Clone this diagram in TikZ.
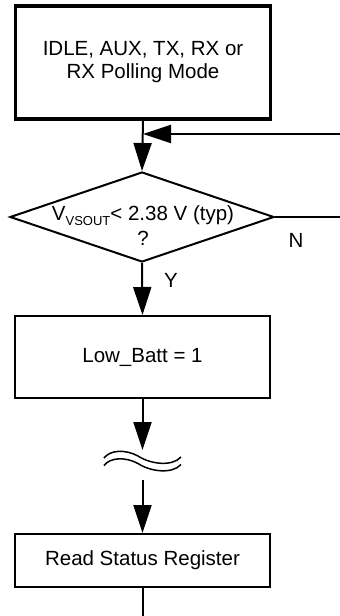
\documentclass[tikz,border=0pt]{standalone}
\usepackage{fontspec}
\setmainfont{Liberation Sans}
\usetikzlibrary{shapes.geometric, arrows.meta}

\begin{document}
\begin{tikzpicture}[x=1pt, y=-1pt]
% styles
\tikzstyle{modebox}=[rectangle, draw=black, line width=3.5pt, minimum width=255pt, minimum height=113pt, align=center, inner sep=0pt, font=\fontsize{20.5}{23}\selectfont]
\tikzstyle{etape}=[rectangle, draw=black, line width=2pt, minimum width=255pt, align=center, inner sep=0pt, font=\fontsize{20.5}{23}\selectfont]
\tikzstyle{test}=[diamond, draw=black, line width=2pt, minimum width=264pt, minimum height=90pt, inner sep=0pt]
\tikzstyle{fleche}=[-{Triangle[length=28pt, width=18pt]}, line width=2pt, color=black]
\tikzstyle{trait}=[line width=2pt, color=black]
\tikzstyle{rep}=[font=\fontsize{20.5}{23}\selectfont, inner sep=0pt]

\useasboundingbox (0,0) rectangle (340,616);

% les noeuds
\node[modebox] (mode) at (143,62.5) {IDLE, AUX, TX, RX or\\RX Polling Mode};
\node[test] (dec) at (142,217) {};
\node[align=center, inner sep=0pt, font=\fontsize{20.5}{25}\selectfont] (dectxt) at (143,226) {V\raisebox{-0.45ex}{\fontsize{13}{13}\selectfont VSOUT}< 2.38 V (typ)\\?};
\node[etape, minimum height=82pt] (low) at (142.5,357) {Low\_Batt = 1};
\node[etape, minimum height=53pt] (read) at (142.5,560.5) {Read Status Register};
\node[rep] (lblN) at (296,240) {N};
\node[rep] (lblY) at (171,280) {Y};

\coordinate (fbin) at (340,134);
\coordinate (nout) at (340,217);
\coordinate (brkin) at (142.5,450);
\coordinate (brkout) at (142.5,480);
\coordinate (fin) at (142.5,616);

% les flèches
\draw[fleche] (mode.south) -- (dec.north);
\draw[fleche] (fbin) -- (fbin -| mode.south);
\draw[trait] (dec.east) -- (nout);
\draw[fleche] (dec.south) -- (low.north);
\draw[fleche] (low.south) -- (brkin);
\draw[fleche] (brkout) -- (read.north);
\draw[trait] (read.south) -- (fin);

% la coupure
\foreach \dy in {0,7.5}
  \draw[line width=1.5pt, yshift=-\dy pt] (104,458) .. controls (110,450) and (125,449) .. (138,456) .. controls (150,464) and (172,467) .. (181,457);
\end{tikzpicture}
\end{document}
